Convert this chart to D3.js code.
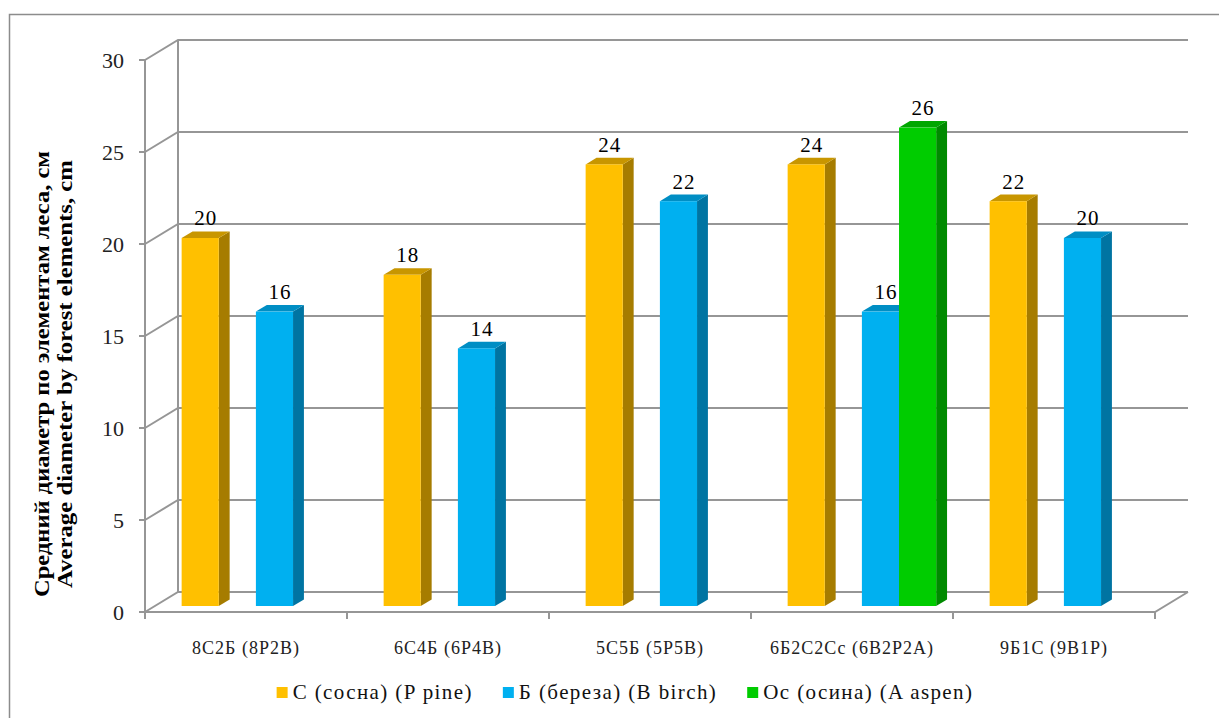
<!DOCTYPE html>
<html>
<head>
<meta charset="utf-8">
<script src="https://cdn.jsdelivr.net/npm/d3@7"></script>
<style>
  body { margin: 0; background: #fff; }
  text { font-family: "Liberation Serif", "DejaVu Serif", serif; }
</style>
</head>
<body>
<div id="chart"></div>
<script>
const categories = ["8С2Б (8Р2В)", "6С4Б (6Р4В)", "5С5Б (5Р5В)", "6Б2С2Сс (6В2Р2А)", "9Б1С (9В1Р)"];
const seriesNames = ["С (сосна) (P pine)", "Б (береза) (B birch)", "Ос (осина) (A aspen)"];
const pineValues = [20, 18, 24, 24, 22];
const birchValues = [16, 14, 22, 16, 20];
const aspenValues = [null, null, null, 26, null];
const yTicks = [0, 5, 10, 15, 20, 25, 30];
// slot order inside each category, the second slot stays empty
const slots = ["С", "", "Б", "Ос"];

const width = 1219;
const height = 718;

// front plane of the 3d box
const plotLeft = 145, plotRight = 1155, plotTop = 60, plotBottom = 612;
// depth of the floor
const depthX = 33, depthY = -20;
// bar depth range (fraction of floor depth)
const d1 = 0.3, d2 = 0.63;

const colors = {
  "С": { front: "#ffc000", side: "#a67c00", top: "#c89600" },
  "Б": { front: "#00b0f0", side: "#0074a2", top: "#008ec4" },
  "Ос": { front: "#00cc00", side: "#008a00", top: "#00a600" }
};

const svg = d3.select("#chart")
  .append("svg")
  .attr("width", width)
  .attr("height", height);

// outer frame
svg.append("rect")
  .attr("x", 9.5).attr("y", 14.5)
  .attr("width", 1230).attr("height", 720)
  .attr("fill", "none")
  .attr("stroke", "#8c8c8c")
  .attr("stroke-width", 1.5);

const y = d3.scaleLinear().domain([0, 30]).range([plotBottom, plotTop]);
const x0 = d3.scaleBand().domain(categories).range([plotLeft, plotRight]);
const x1 = d3.scaleBand().domain(slots).range([0, x0.bandwidth()]).paddingOuter(0.72);

const grid = svg.append("g")
  .attr("fill", "none")
  .attr("stroke", "#969696")
  .attr("stroke-width", 2);

// gridlines on back wall with diagonals to the front axis
yTicks.forEach(t => {
  grid.append("path")
    .attr("d", `M${plotLeft},${y(t)} L${plotLeft + depthX},${y(t) + depthY} L${plotRight + depthX},${y(t) + depthY}`);
  grid.append("line")
    .attr("x1", plotLeft - 6).attr("x2", plotLeft)
    .attr("y1", y(t)).attr("y2", y(t));
});

// back wall left edge
grid.append("line")
  .attr("x1", plotLeft + depthX).attr("x2", plotLeft + depthX)
  .attr("y1", y(30) + depthY).attr("y2", y(0) + depthY);

// front axis
grid.append("line")
  .attr("x1", plotLeft).attr("x2", plotLeft)
  .attr("y1", y(30)).attr("y2", y(0));

// floor front edge and right diagonal
grid.append("path")
  .attr("d", `M${plotLeft},${y(0)} L${plotRight},${y(0)} L${plotRight + depthX},${y(0) + depthY}`);

// category ticks
x0.domain().concat([null]).forEach((c, i) => {
  const xx = plotLeft + i * x0.step();
  grid.append("line")
    .attr("x1", xx).attr("x2", xx)
    .attr("y1", y(0)).attr("y2", y(0) + 7);
});

// y tick labels
svg.append("g")
  .selectAll("text")
  .data(yTicks)
  .join("text")
  .attr("x", 124)
  .attr("y", d => y(d))
  .attr("dy", "0.35em")
  .attr("text-anchor", "end")
  .attr("font-size", 22)
  .attr("fill", "#222")
  .text(d => d);

// category labels
svg.append("g")
  .selectAll("text")
  .data(categories)
  .join("text")
  .attr("x", d => x0(d) + x0.bandwidth() / 2)
  .attr("y", 654)
  .attr("text-anchor", "middle")
  .attr("font-size", 18)
  .attr("letter-spacing", 1)
  .attr("fill", "#222")
  .text(d => d);

// bar data
const bars = [];
categories.forEach((c, i) => {
  [["С", pineValues[i]], ["Б", birchValues[i]], ["Ос", aspenValues[i]]].forEach(([s, v]) => {
    if (v != null) bars.push({ cat: c, slot: s, value: v });
  });
});

const dw = (d2 - d1) * depthX;
const dh = (d2 - d1) * depthY;

const barG = svg.append("g");
bars.forEach(b => {
  const xl = x0(b.cat) + x1(b.slot) + d1 * depthX;
  const xr = xl + x1.bandwidth();
  const yt = y(b.value) + d1 * depthY;
  const yb = y(0) + d1 * depthY;
  const c = colors[b.slot];
  const g = barG.append("g");
  g.append("path")
    .attr("d", `M${xr},${yt} L${xr + dw},${yt + dh} L${xr + dw},${yb + dh} L${xr},${yb}Z`)
    .attr("fill", c.side);
  g.append("path")
    .attr("d", `M${xl},${yt} L${xl + dw},${yt + dh} L${xr + dw},${yt + dh} L${xr},${yt}Z`)
    .attr("fill", c.top);
  g.append("rect")
    .attr("x", xl).attr("y", yt)
    .attr("width", x1.bandwidth()).attr("height", yb - yt)
    .attr("fill", c.front);
  g.append("text")
    .attr("x", (xl + xr) / 2 + dw / 2)
    .attr("y", yt + dh - 6)
    .attr("text-anchor", "middle")
    .attr("font-size", 21)
    .attr("letter-spacing", 1)
    .attr("fill", "#000")
    .text(b.value);
});

// y axis title
const title = svg.append("text")
  .attr("transform", "translate(49,374) rotate(-90)")
  .attr("text-anchor", "middle")
  .attr("font-size", 22)
  .attr("font-weight", "bold")
  .attr("fill", "#000");
title.append("tspan")
  .attr("x", 0).attr("y", 0)
  .attr("textLength", 446)
  .attr("lengthAdjust", "spacingAndGlyphs")
  .text("Средний диаметр по элементам леса, см");
title.append("tspan")
  .attr("x", 0).attr("y", 23)
  .attr("textLength", 428)
  .attr("lengthAdjust", "spacingAndGlyphs")
  .text("Average diameter by forest elements, cm");

// legend
const legend = svg.append("g").attr("transform", "translate(0,692)");
const slotKeys = ["С", "Б", "Ос"];
const items = legend.selectAll("g")
  .data(seriesNames)
  .join("g");
items.append("rect")
  .attr("x", 0).attr("y", -5)
  .attr("width", 11).attr("height", 11)
  .attr("fill", (d, i) => colors[slotKeys[i]].front);
items.append("text")
  .attr("x", 16)
  .attr("dy", "0.35em")
  .attr("font-size", 21)
  .attr("letter-spacing", 1.4)
  .attr("fill", "#111")
  .text(d => d);

let widths = [];
items.each(function () { widths.push(this.getBBox().width); });
const gap = 30;
const total = d3.sum(widths) + gap * (widths.length - 1);
let cursor = 625 - total / 2;
items.attr("transform", (d, i) => {
  const t = `translate(${cursor},0)`;
  cursor += widths[i] + gap;
  return t;
});
</script>
</body>
</html>
